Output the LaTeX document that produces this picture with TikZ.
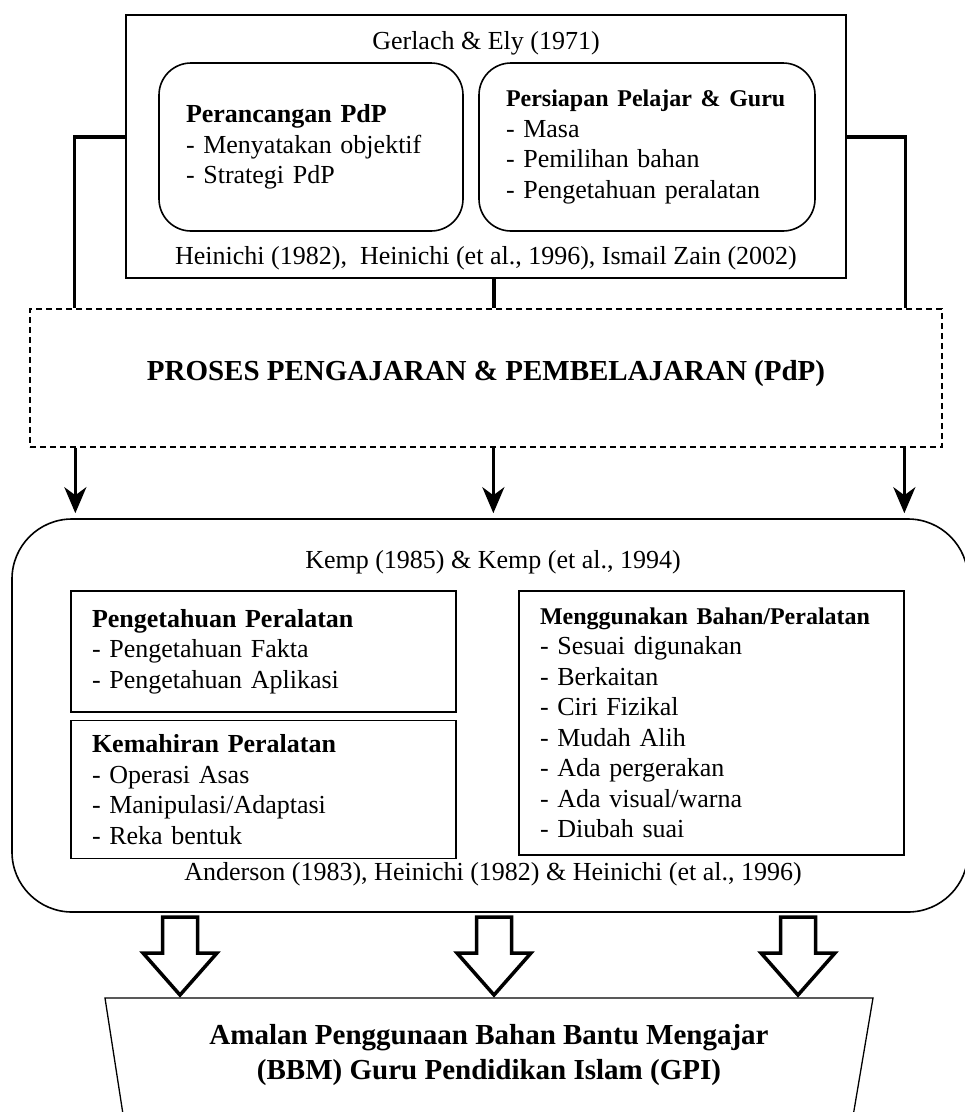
\documentclass[tikz,border=0pt]{standalone}
\usepackage{fontspec}
\setmainfont{Liberation Serif}
\usetikzlibrary{arrows.meta,positioning,calc}

\tikzset{
  mainbox/.style={draw, line width=1.6pt, inner sep=0pt},
  roundbox/.style={draw, line width=1.6pt, rounded corners=32pt, align=left, inner xsep=27pt, inner ysep=0pt, minimum height=168pt},
  itembox/.style={draw, line width=1.6pt, align=left, inner xsep=21pt, inner ysep=0pt, text width=343pt},
  link/.style={line width=3.5pt},
  flow/.style={line width=3pt, -{Stealth[length=26pt,width=22pt,inset=8pt]}, shorten >=5pt},
  hollow/.style={draw, line width=3.5pt, line join=miter, fill=white},
  headfont/.style={font=\fontsize{29}{35}\selectfont\bfseries},
}

\begin{document}
\begin{tikzpicture}[x=1pt, y=-1pt, every node/.style={font=\fontsize{26}{30.5}\selectfont}]
    \useasboundingbox (0,0) rectangle (965,1112);

    % Top box
    \node[mainbox, minimum width=720pt, minimum height=263pt] (top) at (486,146.5) {};
    \node (gerlach) at (486,43) {Gerlach \& Ely (1971)};
    \node[roundbox, text width=250pt] (plan) at (311,147) {\textbf{Perancangan PdP}\\- Menyatakan objektif\\- Strategi PdP};
    \node[roundbox, text width=282pt] (prep) at (647,147) {{\fontsize{24}{29}\selectfont\bfseries Persiapan Pelajar \& Guru}\\- Masa\\- Pemilihan bahan\\- Pengetahuan peralatan};
    \node (heinichi) at (486,258) {Heinichi (1982),~ Heinichi (et al., 1996), Ismail Zain (2002)};

    % Process box
    \node[draw, line width=1.3pt, dash pattern=on 6pt off 4pt, minimum width=912pt, minimum height=138pt] (pdp) at (486,378) {};
    \node[headfont] (pdplbl) at (486,374) {PROSES PENGAJARAN \& PEMBELAJARAN (PdP)};

    % Links into the process box
    \draw[link] ([yshift=9.5pt]top.west) -| ([xshift=45pt]pdp.north west);
    \draw[link] ([yshift=9.5pt]top.east) -| ([xshift=-37pt]pdp.north east);
    \draw[link] ([xshift=8pt]top.south) -- ([xshift=8pt]top.south |- pdp.north);

    % Big box
    \node[mainbox, rounded corners=60pt, minimum width=956pt, minimum height=393pt] (kemp) at (490,715.5) {};

    % Arrows down
    \foreach \dx in {46,464,875}
        \draw[flow] ([xshift=\dx pt]pdp.south west) -- ([xshift=\dx pt]pdp.south west |- kemp.north);

    \node (kemplbl) at (493,562) {Kemp (1985) \& Kemp (et al., 1994)};
    \node[itembox, minimum height=121pt] (know) at (263.5,651.5) {\textbf{Pengetahuan Peralatan}\\- Pengetahuan Fakta\\- Pengetahuan Aplikasi};
    \node[itembox, minimum height=138pt, below=7pt of know] (skill) {\textbf{Kemahiran Peralatan}\\- Operasi Asas\\- Manipulasi/Adaptasi\\- Reka bentuk};
    \node[itembox, minimum height=264pt] (use) at (711.5,723) {{\fontsize{24}{29}\selectfont\bfseries Menggunakan Bahan/Peralatan}\\- Sesuai digunakan\\- Berkaitan\\- Ciri Fizikal\\- Mudah Alih\\- Ada pergerakan\\- Ada visual/warna\\- Diubah suai};
    \node (anderson) at (493,874) {Anderson (1983), Heinichi (1982) \& Heinichi (et al., 1996)};

    % Hollow arrows
    \foreach \cx in {180,494,798}
        \draw[hollow] (\cx-17.5,917) -- ++(35,0) -- ++(0,36) -- ++(19.5,0) -- (\cx,995) -- (\cx-37,953) -- ++(19.5,0) -- cycle;

    % Result
    \draw[line width=1.3pt] (127,1140) -- (105,998) -- (873,998) -- (849,1140);
    \node[align=center, headfont] (bbm) at (489,1055) {Amalan Penggunaan Bahan Bantu Mengajar\\(BBM) Guru Pendidikan Islam (GPI)};
\end{tikzpicture}
\end{document}
